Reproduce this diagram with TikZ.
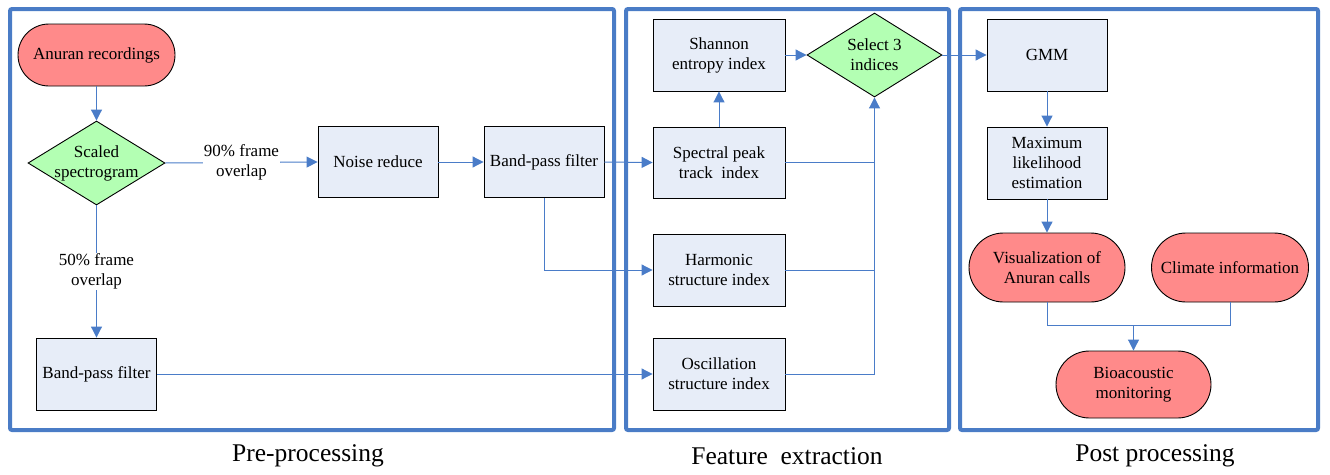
\documentclass[tikz,border=0pt]{standalone}
\usepackage{fontspec}
\setmainfont{Liberation Serif}
\usetikzlibrary{shapes.geometric,shapes.misc,arrows.meta}
\definecolor{panelblue}{HTML}{4A7CC6}
\definecolor{connblue}{HTML}{4A7CC8}
\definecolor{boxfill}{HTML}{E7EDF8}
\definecolor{termfill}{HTML}{FF8A8A}
\definecolor{diafill}{HTML}{B3FFB3}
\begin{document}
\begin{tikzpicture}[x=1pt,y=-1pt,
  every node/.style={font=\fontsize{17}{20}\selectfont},
  panel/.style={draw=panelblue,line width=4pt,rounded corners=2pt},
  procbox/.style={draw=black,line width=0.9pt,fill=boxfill,minimum width=120pt,minimum height=71pt,inner sep=0pt,align=center},
  idxbox/.style={procbox,minimum width=132pt},
  term/.style={draw=black,line width=0.9pt,fill=termfill,rounded rectangle,inner sep=0pt,align=center},
  dia/.style={draw=black,line width=0.9pt,fill=diafill,diamond,inner sep=0pt},
  conn/.style={draw=connblue,line width=1pt},
  arr/.style={conn,-{Triangle[length=11pt,width=11pt]}},
  lab/.style={fill=white,inner sep=1pt,align=center},
  captext/.style={font=\fontsize{25.5}{30}\selectfont}
]
\useasboundingbox (0,0) rectangle (1330,474);
% panels
\draw[panel] (10,9) rectangle (614,430);
\draw[panel] (626,9) rectangle (949,430);
\draw[panel] (960,9) rectangle (1318,430);
% captions
\node[captext] (c1) at (308,456) {Pre-processing};
\node[captext] (c2) at (787,456) {Feature~~extraction};
\node[captext] (c3) at (1155,456) {Post processing};
% pre-processing
\node[term,minimum width=157pt,minimum height=62pt] (anu) at (96.5,55) {Anuran recordings};
\node[dia,minimum width=137pt,minimum height=84pt] (sc) at (96.5,163) {};
\node[align=center] (sct) at (sc) {Scaled\\spectrogram};
\node[procbox] (nr) at (378,162) {Noise reduce};
\node[procbox] (bp1) at (544,162) {Band-pass filter};
\node[procbox,minimum height=72pt] (bp2) at (96.5,374) {Band-pass filter};
% feature extraction
\node[idxbox,minimum height=72pt] (sh) at (719,55) {Shannon\\entropy index};
\node[dia,minimum width=135pt,minimum height=84pt] (sel) at (874.5,55) {};
\node[align=center] (selt) at (sel) {Select 3\\indices};
\node[idxbox] (sp) at (719,162.5) {Spectral peak\\track~ index};
\node[idxbox,minimum height=72pt] (ha) at (719,270) {Harmonic\\structure index};
\node[idxbox,minimum height=72pt] (os) at (719,374) {Oscillation\\structure index};
% post processing
\node[procbox,minimum height=72pt] (gmm) at (1047,55) {GMM};
\node[procbox,minimum height=72pt] (ml) at (1047,163) {Maximum\\likelihood\\estimation};
\node[term,minimum width=156pt,minimum height=69pt] (vis) at (1047,267.5) {Visualization of\\Anuran calls};
\node[term,minimum width=157pt,minimum height=69pt] (cli) at (1230,267.5) {Climate information};
\node[term,minimum width=155pt,minimum height=67pt] (bio) at (1133.5,384.5) {Bioacoustic\\monitoring};
\coordinate (mrg) at (1133.5,325);
% connectors
\draw[arr] (anu.south) -- (sc.north);
\draw[arr] (sc.east) -- node[lab] (l90) {90\% frame\\overlap} (nr.west);
\draw[arr] (sc.south) -- node[lab] (l50) {50\% frame\\overlap} (bp2.north);
\draw[arr] (nr.east) -- (bp1.west);
\draw[arr] (bp1.east) -- (sp.west);
\draw[arr] (bp1.south) |- (ha.west);
\draw[arr] (bp2.east) -- (os.west);
\draw[arr] (sp.north) -- (sh.south);
\draw[arr] (sh.east) -- (sel.west);
\draw[conn] (sp.east) -- (sp.east -| sel.south);
\draw[conn] (ha.east) -- (ha.east -| sel.south);
\draw[arr] (os.east) -| (sel.south);
\draw[arr] (sel.east) -- (gmm.west);
\draw[arr] (gmm.south) -- (ml.north);
\draw[arr] (ml.south) -- (vis.north);
\draw[conn] (vis.south) |- (mrg);
\draw[conn] (cli.south) |- (mrg);
\draw[arr] (mrg) -- (bio.north);
\end{tikzpicture}
\end{document}
